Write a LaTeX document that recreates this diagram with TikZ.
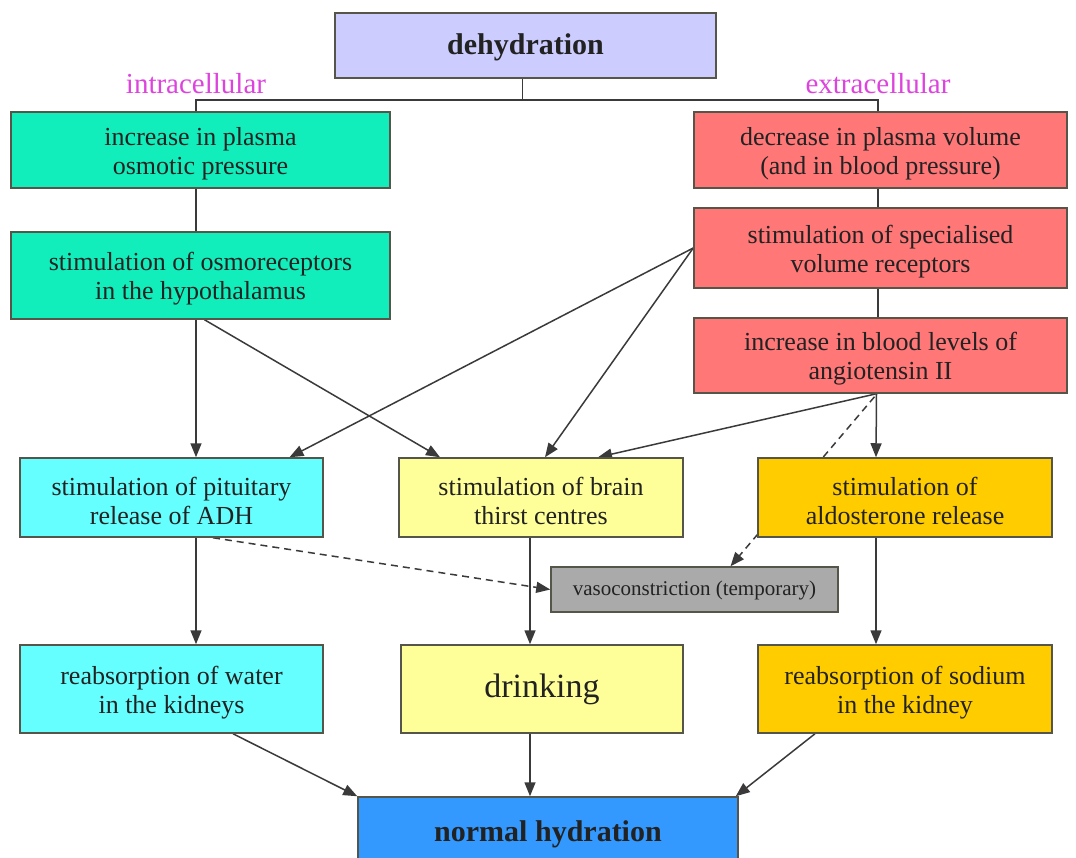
\documentclass[tikz,border=0pt]{standalone}
\usepackage{fontspec}
\setmainfont{Liberation Serif}
\usetikzlibrary{arrows.meta,calc,backgrounds}
\definecolor{edgec}{HTML}{3A3A3A}
\definecolor{boxline}{HTML}{55554A}
\definecolor{txt}{HTML}{222222}
\definecolor{lav}{HTML}{CCCCFF}
\definecolor{aqua}{HTML}{11EEBB}
\definecolor{salmon}{HTML}{FF7777}
\definecolor{cyanb}{HTML}{66FFFF}
\definecolor{lyel}{HTML}{FFFF99}
\definecolor{gold}{HTML}{FFCC00}
\definecolor{grayb}{HTML}{AAAAAA}
\definecolor{blueb}{HTML}{3399FF}
\definecolor{mag}{HTML}{DD44DD}
\newcommand{\tstrut}{\rule{0pt}{25pt}}
\tikzset{
  boxst/.style={draw=boxline, line width=1.5pt, inner sep=0pt, align=center,
    text=txt, font=\fontsize{26}{29}\selectfont},
  lbl/.style={text=mag, font=\fontsize{29}{32}\selectfont, inner sep=0pt},
  link/.style={draw=edgec, line width=1.5pt},
  arr/.style={link, -{Triangle[length=14pt,width=11pt]}},
  darr/.style={arr, dash pattern=on 7pt off 5pt},
}
\begin{document}
\begin{tikzpicture}[x=1pt,y=-1pt]
\useasboundingbox (0,0) rectangle (1076,858);
\clip (0,0) rectangle (1076,858);
% nodes
\node[boxst, fill=lav, minimum width=381pt, minimum height=65pt,
  font=\bfseries\fontsize{30}{33}\selectfont] (dehyd) at (525.5,45.5) {\tstrut dehydration};
\node[lbl] (intra) at (196,84) {intracellular};
\node[lbl] (extra) at (878,84) {extracellular};
\node[boxst, fill=aqua, minimum width=379pt, minimum height=76pt] (osm) at (200.5,150) {\tstrut increase in plasma\\osmotic pressure};
\node[boxst, fill=salmon, minimum width=373pt, minimum height=76pt] (vol) at (880.5,150) {\tstrut decrease in plasma volume\\(and in blood pressure)};
\node[boxst, fill=aqua, minimum width=379pt, minimum height=87pt] (osmrec) at (200.5,275.5) {\tstrut stimulation of osmoreceptors\\in the hypothalamus};
\node[boxst, fill=salmon, minimum width=373pt, minimum height=80pt] (volrec) at (880.5,248) {\tstrut stimulation of specialised\\volume receptors};
\node[boxst, fill=salmon, minimum width=373pt, minimum height=75pt] (ang) at (880.5,355.5) {\tstrut increase in blood levels of\\angiotensin II};
\node[boxst, fill=cyanb, minimum width=303pt, minimum height=79pt] (pit) at (171.5,497.5) {\tstrut stimulation of pituitary\\release of ADH};
\node[boxst, fill=lyel, minimum width=284pt, minimum height=79pt] (thirst) at (541,497.5) {\tstrut stimulation of brain\\thirst centres};
\node[boxst, fill=gold, minimum width=294pt, minimum height=79pt] (aldo) at (905,497.5) {\tstrut stimulation of\\aldosterone release};
\node[boxst, fill=grayb, minimum width=287pt, minimum height=45pt,
  font=\fontsize{21}{24}\selectfont] (vaso) at (694.5,589.5) {\rule{0pt}{17pt}vasoconstriction (temporary)};
\node[boxst, fill=cyanb, minimum width=303pt, minimum height=88pt] (water) at (171.5,689) {\tstrut reabsorption of water\\in the kidneys};
\node[boxst, fill=lyel, minimum width=282pt, minimum height=88pt,
  font=\fontsize{34}{37}\selectfont] (drink) at (542,689) {drinking};
\node[boxst, fill=blueb, minimum width=380pt, minimum height=74pt,
  font=\bfseries\fontsize{30}{33}\selectfont] (normal) at (548,834) {normal hydration};
\node[boxst, fill=gold, minimum width=294pt, minimum height=88pt] (sodium) at (905,689) {\tstrut reabsorption of sodium\\in the kidney};
% connectors
\coordinate (jl) at (196,100);
\coordinate (jr) at (878,100);
\begin{scope}[on background layer]
\draw[link] ($(dehyd.south)+(-3,0)$) -- ($(dehyd.south |- jl)+(-3,0)$);
\draw[link] (osm.north -| jl) -- (jl) -- (jr) -- (vol.north -| jr);
\draw[link] (osm.south -| jl) -- (osmrec.north -| jl);
\draw[link] (vol.south -| jr) -- (volrec.north -| jr);
\draw[link] (volrec.south -| jr) -- (ang.north -| jr);
\draw[arr] (osmrec.south -| jl) -- (pit.north -| jl);
\draw[arr] ($(osmrec.south)+(4,0)$) -- ($(thirst.north)+(-101,0)$);
\draw[arr] (volrec.west) -- ($(pit.north)+(118,0)$);
\draw[arr] (volrec.west) -- ($(thirst.north)+(4,0)$);
\draw[arr] ($(ang.south)+(-4,0)$) -- ($(thirst.north)+(57,0)$);
\draw[arr] ($(ang.south)+(-4,0)$) -- ($(aldo.north)+(-29,0)$);
\draw[darr] ($(ang.south)+(-6,3)$) -- ($(vaso.north)+(36,0)$);
\draw[arr] (pit.south -| jl) -- (water.north -| jl);
\draw[darr] ($(pit.south)+(41.5,0)$) -- (vaso.west);
\draw[arr] ($(thirst.south)+(-11,0)$) -- ($(drink.north)+(-12,0)$);
\draw[arr] ($(aldo.south)+(-29,0)$) -- ($(sodium.north)+(-29,0)$);
\draw[arr] ($(water.south)+(61.5,0)$) -- (normal.north west);
\draw[arr] ($(drink.south)+(-12,0)$) -- ($(normal.north)+(-18,0)$);
\draw[arr] ($(sodium.south)+(-90,0)$) -- ($(normal.north east)+(-3,0)$);
\end{scope}
\end{tikzpicture}
\end{document}
